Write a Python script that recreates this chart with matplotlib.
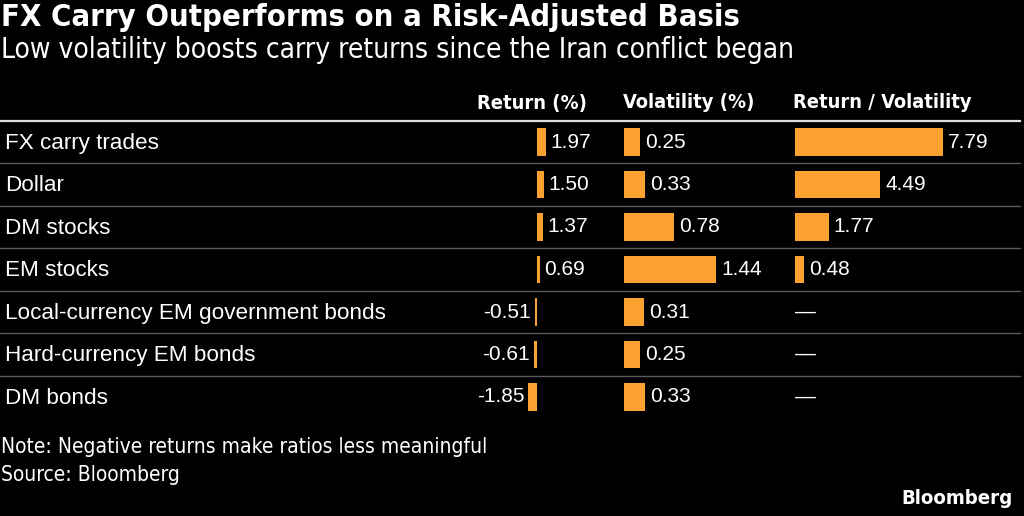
import numpy as np
import matplotlib
matplotlib.use("Agg")
import matplotlib.pyplot as plt

# ---- data ---------------------------------------------------------------
labels = ["FX carry trades", "Dollar", "DM stocks", "EM stocks",
          "Local-currency EM government bonds", "Hard-currency EM bonds", "DM bonds"]
returns = [1.97, 1.50, 1.37, 0.69, -0.51, -0.61, -1.85]
volatility = [0.25, 0.33, 0.78, 1.44, 0.31, 0.25, 0.33]
ratio = [7.79, 4.49, 1.77, 0.48, np.nan, np.nan, np.nan]

title = "FX Carry Outperforms on a Risk-Adjusted Basis"
subtitle = "Low volatility boosts carry returns since the Iran conflict began"
note = "Note: Negative returns make ratios less meaningful"
source = "Source: Bloomberg"

W, H = 1024, 516
BG = "black"; FG = "white"; ORANGE = "#FBA12F"; GRID = "#5a5a5a"
COND = ["DejaVu Sans"]
SANS = ["Liberation Sans", "DejaVu Sans"]
ST = "condensed"

fig = plt.figure(figsize=(W / 100, H / 100), dpi=100, facecolor=BG)


def fx(px):
    return px / W


def fy(py):
    return 1 - py / H


# row area (pixels from top)
TOP, BOT = 120.75, 418.25
n = len(labels)


def col_axes(left_px, right_px, zero_px, px_per_unit):
    ax = fig.add_axes([fx(left_px), fy(BOT), (right_px - left_px) / W, (BOT - TOP) / H])
    ax.set_xlim((left_px - zero_px) / px_per_unit, (right_px - zero_px) / px_per_unit)
    ax.set_ylim(n - 0.5, -0.5)
    ax.axis("off")
    return ax


# background: row labels and separators
bg = fig.add_axes([0, fy(BOT), 1, (BOT - TOP) / H])
bg.set_xlim(0, W)
bg.set_ylim(n - 0.5, -0.5)
bg.axis("off")
bg.axhline(-0.5, xmin=0, xmax=1020 / W, color="#dddddd", lw=1.6, clip_on=False)
for i in range(n - 1):
    bg.axhline(i + 0.5, xmin=0, xmax=1020 / W, color=GRID, lw=1.0)
for i, lab in enumerate(labels):
    bg.text(5, i + 0.03, lab, color=FG, fontsize=16.2, family=SANS, ha="left", va="center")

y = np.arange(n)
bh = 0.64
val = dict(color=FG, fontsize=15, family=SANS, va="center")

# return column
ax_r = col_axes(470, 600, 537, 4.6)
ax_r.barh(y, returns, height=bh, color=ORANGE)
for i, v in enumerate(returns):
    if v >= 0:
        ax_r.annotate(f"{v:.2f}", (v, i), xytext=(4, 0), textcoords="offset pixels",
                      ha="left", **val)
    else:
        ax_r.annotate(f"{v:.2f}", (v, i), xytext=(-4, 0), textcoords="offset pixels",
                      ha="right", **val)

# volatility column
ax_v = col_axes(610, 780, 624, 64)
ax_v.barh(y, volatility, height=bh, color=ORANGE)
for i, v in enumerate(volatility):
    ax_v.annotate(f"{v:.2f}", (v, i), xytext=(5, 0), textcoords="offset pixels",
                  ha="left", **val)

# return / volatility column
ax_q = col_axes(785, 1020, 795, 19)
ax_q.barh(y, np.nan_to_num(ratio), height=bh, color=ORANGE)
for i, v in enumerate(ratio):
    if np.isnan(v):
        ax_q.annotate("—", (0, i), xytext=(0, 0), textcoords="offset pixels",
                      ha="left", **val)
    else:
        ax_q.annotate(f"{v:.2f}", (v, i), xytext=(5, 0), textcoords="offset pixels",
                      ha="left", **val)

# headers
hdr = dict(color=FG, fontsize=14.4, fontweight="bold", family=COND, fontstretch=ST,
           va="center")
fig.text(fx(587), fy(103), "Return (%)", ha="right", **hdr)
fig.text(fx(623), fy(103), "Volatility (%)", ha="left", **hdr)
fig.text(fx(793), fy(103), "Return / Volatility", ha="left", **hdr)

# titles and footer
fig.text(fx(1), fy(18), title, color=FG, fontsize=22.2, fontweight="bold", family=COND,
         fontstretch=ST, ha="left", va="center")
fig.text(fx(1), fy(50), subtitle, color=FG, fontsize=20.2, family=COND, fontstretch=ST,
         ha="left", va="center")
fig.text(fx(1), fy(447), note, color=FG, fontsize=15, family=COND, fontstretch=ST,
         ha="left", va="center")
fig.text(fx(1), fy(475), source, color=FG, fontsize=15, family=COND, fontstretch=ST,
         ha="left", va="center")
fig.text(fx(1013), fy(499), "Bloomberg", color=FG, fontsize=14.6, fontweight="bold",
         family=COND, fontstretch=ST, ha="right", va="center")

fig.savefig("out.png", dpi=100, facecolor=BG)
